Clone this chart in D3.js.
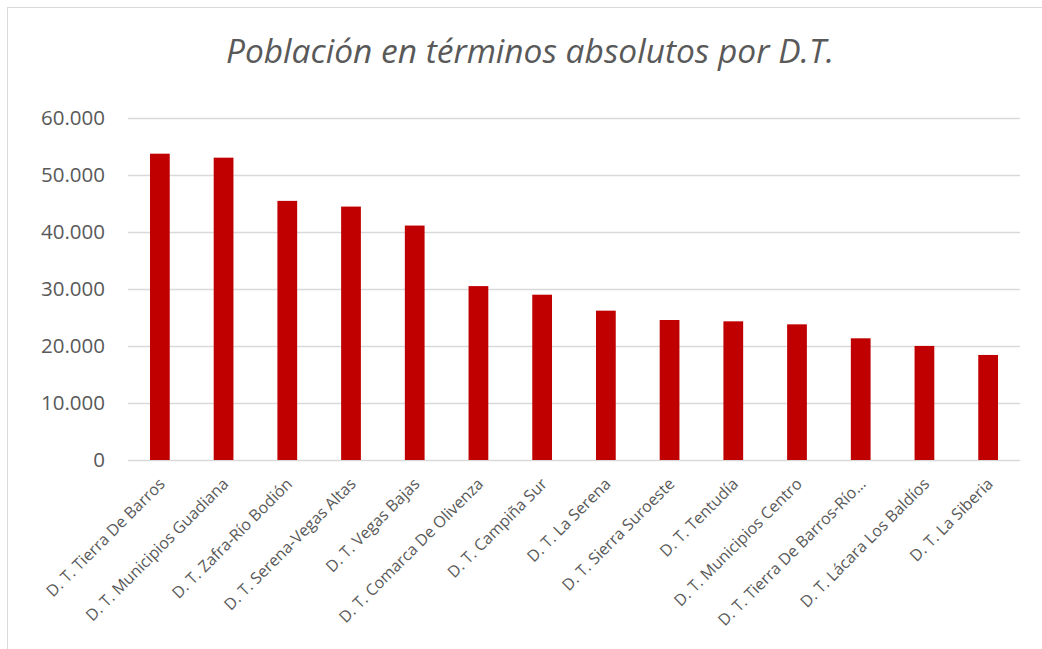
<!DOCTYPE html>
<html>
<head>
<meta charset="utf-8">
<style>
  body { margin: 0; background: #fff; }
  text { font-family: "Open Sans", "Noto Sans", sans-serif; fill: #595959; }
</style>
</head>
<body>
<svg width="1042" height="649"></svg>
<script src="https://d3js.org/d3.v7.min.js"></script>
<script>

var categories = [
  "D. T. Tierra De Barros", "D. T. Municipios Guadiana", "D. T. Zafra-Río Bodión",
  "D. T. Serena-Vegas Altas", "D. T. Vegas Bajas", "D. T. Comarca De Olivenza",
  "D. T. Campiña Sur", "D. T. La Serena", "D. T. Sierra Suroeste", "D. T. Tentudía",
  "D. T. Municipios Centro", "D. T. Tierra De Barros-Río…", "D. T. Lácara Los Baldíos",
  "D. T. La Siberia"
];
var poblacion = [53740, 53040, 45460, 44460, 41130, 30510, 29000,
                 26200, 24560, 24330, 23800, 21350, 20010, 18430];
var yTicks = [0, 10000, 20000, 30000, 40000, 50000, 60000];

var svg = d3.select("svg"),
    margin = {top: 118, right: 22, bottom: 189, left: 128},
    width = +svg.attr("width") - margin.left - margin.right,
    height = +svg.attr("height") - margin.top - margin.bottom,
    g = svg.append("g").attr("transform", "translate(" + margin.left + "," + margin.top + ")");

// chart frame (only top and left visible, rest is cropped)
svg.append("rect")
    .attr("x", 7.5).attr("y", 7.5)
    .attr("width", 1100).attr("height", 700)
    .attr("fill", "none")
    .attr("stroke", "#d9d9d9");

svg.append("text")
    .attr("x", 530)
    .attr("y", 63)
    .attr("text-anchor", "middle")
    .style("font-size", "33.5px")
    .style("font-style", "italic")
    .text("Población en términos absolutos por D.T.");

var x = d3.scaleBand()
    .domain(categories)
    .range([0, width])
    .paddingInner(0.69)
    .paddingOuter(0.345);

var y = d3.scaleLinear()
    .domain([0, 60000])
    .range([height, 0]);

var fmt = function(d) { return d3.format(",")(d).replace(/,/g, "."); };

// gridlines + y labels
g.append("g")
    .call(d3.axisLeft(y).tickValues(yTicks).tickSize(-width).tickFormat(fmt).tickPadding(23))
    .call(function(a) { a.select(".domain").remove(); })
    .call(function(a) {
      a.selectAll(".tick line").attr("stroke", "#d9d9d9").attr("stroke-width", 1.3);
      a.selectAll(".tick text").style("font-size", "20.5px").attr("fill", "#595959");
    });

g.selectAll(".bar")
    .data(poblacion)
  .enter().append("rect")
    .attr("class", "bar")
    .attr("x", function(d, i) { return x(categories[i]); })
    .attr("y", function(d) { return y(d); })
    .attr("width", x.bandwidth())
    .attr("height", function(d) { return height - y(d); })
    .attr("fill", "#c00000");

// x labels rotated
g.append("g")
  .selectAll("text")
    .data(categories)
  .enter().append("text")
    .attr("transform", function(d) {
      return "translate(" + (x(d) + x.bandwidth() / 2 + 2) + "," + (height + 21) + ") rotate(-45)";
    })
    .attr("text-anchor", "end")
    .attr("dy", "0.35em")
    .style("font-size", "16px")
    .text(function(d) { return d; });

</script>
</body>
</html>
